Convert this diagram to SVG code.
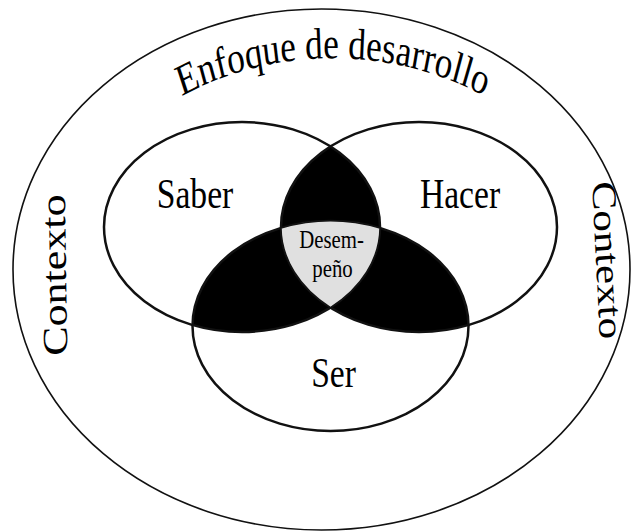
<svg xmlns="http://www.w3.org/2000/svg" width="632" height="532" viewBox="0 0 632 532">
<style>
 .lbl { font-family: "Liberation Serif", "Times New Roman", serif; fill: #000; }
 .big { font-size: 42px; text-anchor: middle; }
 .ring { fill: none; stroke: #111; stroke-width: 2.5; }
 .dark { fill: #000; }
</style>
<defs>
 <path id="arcTop" d="M 187.5,117 A 331.25 212 0 0 1 645,117"/>
</defs>
<rect width="632" height="532" fill="#fff"/>
<g id="context">
 <ellipse cx="321.5" cy="269.5" rx="308.5" ry="260.5" fill="none" stroke="#111" stroke-width="1.6"/>
 <text class="lbl" font-size="44" transform="scale(0.8,1)"><textPath href="#arcTop" startOffset="50%" text-anchor="middle">Enfoque de desarrollo</textPath></text>
 <text class="lbl" font-size="44" text-anchor="middle" transform="scale(0.8,1) translate(82.5,275) rotate(-91)">Contexto</text>
 <text class="lbl" font-size="43" text-anchor="middle" transform="scale(0.8,1) translate(745,261) rotate(86.5)">Contexto</text>
</g>
<g id="overlaps">
 <path class="dark" d="M 330.5,146.4 A 138 105 0 0 1 380,228 A 138 105 0 0 0 281,228 A 138 105 0 0 1 330.5,146.4 Z"/>
 <path class="dark" d="M 192.5,325 A 138 105 0 0 0 330.5,307.6 A 138 105 0 0 1 281,228 A 138 105 0 0 0 192.5,325 Z"/>
 <path class="dark" d="M 468.5,325 A 138 105 0 0 1 330.5,307.6 A 138 105 0 0 0 380,228 A 138 105 0 0 1 468.5,325 Z"/>
</g>
<g id="saber">
 <ellipse class="ring" cx="242" cy="227" rx="138" ry="105"/>
 <text class="lbl big" x="243.75" y="208" transform="scale(0.8,1)">Saber</text>
</g>
<g id="hacer">
 <ellipse class="ring" cx="419" cy="227" rx="138" ry="105"/>
 <text class="lbl big" x="575" y="208" transform="scale(0.8,1)">Hacer</text>
</g>
<g id="ser">
 <ellipse class="ring" cx="330.5" cy="326" rx="138" ry="105"/>
 <text class="lbl big" x="416.9" y="387" transform="scale(0.8,1)">Ser</text>
</g>
<g id="desempeno">
 <path d="M 281,228 A 138 105 0 0 1 380,228 A 138 105 0 0 1 330.5,307.6 A 138 105 0 0 1 281,228 Z" fill="#e0e0e0" stroke="#111" stroke-width="1.5"/>
 <text class="lbl" font-size="26" text-anchor="middle" x="414.4" y="248" transform="scale(0.8,1)">Desem-</text>
 <text class="lbl" font-size="26" text-anchor="middle" x="415.6" y="277" transform="scale(0.8,1)">peño</text>
</g>
</svg>
